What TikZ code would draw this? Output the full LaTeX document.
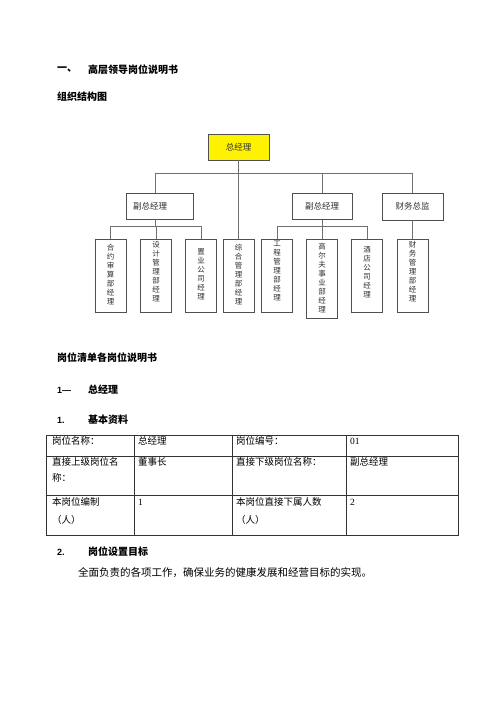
\documentclass[tikz,border=0pt]{standalone}
\usepackage{fontspec}
\setmainfont{Liberation Serif}
\newfontfamily\cjk{Noto Sans CJK SC}
\newfontfamily\arialf{Liberation Sans}
\definecolor{linegray}{HTML}{707070}
\definecolor{boxgray}{HTML}{505050}
\definecolor{txtgray}{HTML}{303030}
\begin{document}
\begin{tikzpicture}[x=1pt,y=-1pt,
  ln/.style={draw=linegray, line width=0.8pt},
  box/.style={draw=boxgray, line width=0.8pt, inner sep=0pt, font=\fontsize{8.5}{10}\cjk, text=txtgray},
  vb/.style={draw=boxgray, line width=0.8pt, inner sep=0pt, minimum width=31pt, minimum height=73pt, anchor=north},
  vt/.style={anchor=north, inner sep=0pt, align=center, font=\fontsize{7.5}{9}\cjk, text=txtgray},
  head/.style={anchor=west, inner sep=0pt, font=\fontsize{10}{12}\cjk\bfseries},
  num/.style={anchor=west, inner sep=0pt, font=\fontsize{9}{11}\arialf\bfseries},
  cell/.style={anchor=west, inner sep=0pt, align=left, font=\fontsize{9.5}{16}\cjk},
  body/.style={anchor=west, inner sep=0pt, font=\fontsize{10.5}{13}\cjk}
]
\useasboundingbox[fill=white] (0,0) rectangle (500,708);

% headings
\node[head] (h1a) at (57,70) {一、};
\node[head] (h1b) at (88,70) {高层领导岗位说明书};
\node[head] (h2) at (57,97) {组织结构图};

% org chart boxes
\node[box, fill=yellow, minimum width=61pt, minimum height=26pt] (gm) at (238.5,147) {总经理};
\node[box, minimum width=67pt, minimum height=26pt, text width=53pt, inner xsep=7pt, align=left] (vp1) at (159.5,206) {副总经理};
\node[box, minimum width=60pt, minimum height=26pt] (vp2) at (322,206.5) {副总经理};
\node[box, minimum width=61pt, minimum height=27pt] (cfo) at (412.5,206.5) {财务总监};

\node[vb] (b1) at (110.5,239) {};
\node[vb] (b2) at (156,239) {};
\node[vb] (b3) at (201,239) {};
\node[vb] (b4) at (238.5,239) {};
\node[vb] (b5) at (277,239) {};
\node[vb, minimum height=79pt] (b6) at (322,239) {};
\node[vb] (b7) at (367,239) {};
\node[vb] (b8) at (412.5,239) {};

\node[vt] (t1) at (110.5,244) {合\\约\\审\\算\\部\\经\\理};
\node[vt] (t2) at (156,241) {设\\计\\管\\理\\部\\经\\理};
\node[vt] (t3) at (201,248) {置\\业\\公\\司\\经\\理};
\node[vt] (t4) at (238.5,244) {综\\合\\管\\理\\部\\经\\理};
\node[vt] (t5) at (277,241) {工\\程\\管\\理\\部\\经\\理};
\node[vt] (t6) at (322,243) {高\\尔\\夫\\事\\业\\部\\经\\理};
\node[vt] (t7) at (367,246) {酒\\店\\公\\司\\经\\理};
\node[vt] (t8) at (412.5,241) {财\\务\\管\\理\\部\\经\\理};

% connectors
\coordinate (busL) at (155,173);
\coordinate (s1) at (155,226);
\coordinate (s2) at (322,226);
\draw[ln] (gm.south) -- (gm.south |- b4.north);
\draw[ln] (busL) -- (cfo.north |- busL);
\draw[ln] (busL) -- (busL |- vp1.north);
\draw[ln] (vp2.north |- busL) -- (vp2.north);
\draw[ln] (cfo.north |- busL) -- (cfo.north);
\draw[ln] (busL |- vp1.south) -- (s1);
\draw[ln] (b1.north |- s1) -- (b3.north |- s1);
\draw[ln] (b1.north |- s1) -- (b1.north);
\draw[ln] (b2.north |- s1) -- (b2.north);
\draw[ln] (b3.north |- s1) -- (b3.north);
\draw[ln] (vp2.south) -- (s2);
\draw[ln] (b5.north |- s2) -- (b7.north |- s2);
\draw[ln] (b5.north |- s2) -- (b5.north);
\draw[ln] (b6.north |- s2) -- (b6.north);
\draw[ln] (b7.north |- s2) -- (b7.north);
\draw[ln] (cfo.south) -- (b8.north);

% section headings
\node[head] (h3) at (57,358) {岗位清单各岗位说明书};
\node[num] (n1) at (57,390) {1—};
\node[head] (h4) at (88,390) {总经理};
\node[num] (n2) at (57,420) {1.};
\node[head] (h5) at (88,420) {基本资料};

% table
\draw[draw=black!80, line width=0.7pt] (46,435) rectangle (458,535);
\draw[draw=black!80, line width=0.7pt] (46,456) -- (458,456) (46,495) -- (458,495)
  (134,435) -- (134,535) (232,435) -- (232,535) (346,435) -- (346,535);
\node[cell] (c11) at (52,441) {岗位名称：};
\node[cell] (c12) at (138,441) {总经理};
\node[cell] (c13) at (236,441) {岗位编号：};
\node[cell] (c14) at (350,441) {\fontspec{Liberation Serif}01};
\node[cell] (c21) at (52,470) {直接上级岗位名\\称：};
\node[cell] (c22) at (138,462) {董事长};
\node[cell] (c23) at (236,462) {直接下级岗位名称：};
\node[cell] (c24) at (350,462) {副总经理};
\node[cell, font=\fontsize{9.5}{18}\cjk] (c31) at (52,511) {本岗位编制\\（人）};
\node[cell] (c32) at (138,502) {\fontspec{Liberation Serif}1};
\node[cell, font=\fontsize{9.5}{18}\cjk] (c33) at (236,511) {本岗位直接下属人数\\（人）};
\node[cell] (c34) at (350,502) {\fontspec{Liberation Serif}2};

\node[num] (n3) at (57,552) {2.};
\node[head] (h6) at (88,552) {岗位设置目标};
\node[body] (p1) at (78,573) {全面负责的各项工作，确保业务的健康发展和经营目标的实现。};
\end{tikzpicture}
\end{document}
